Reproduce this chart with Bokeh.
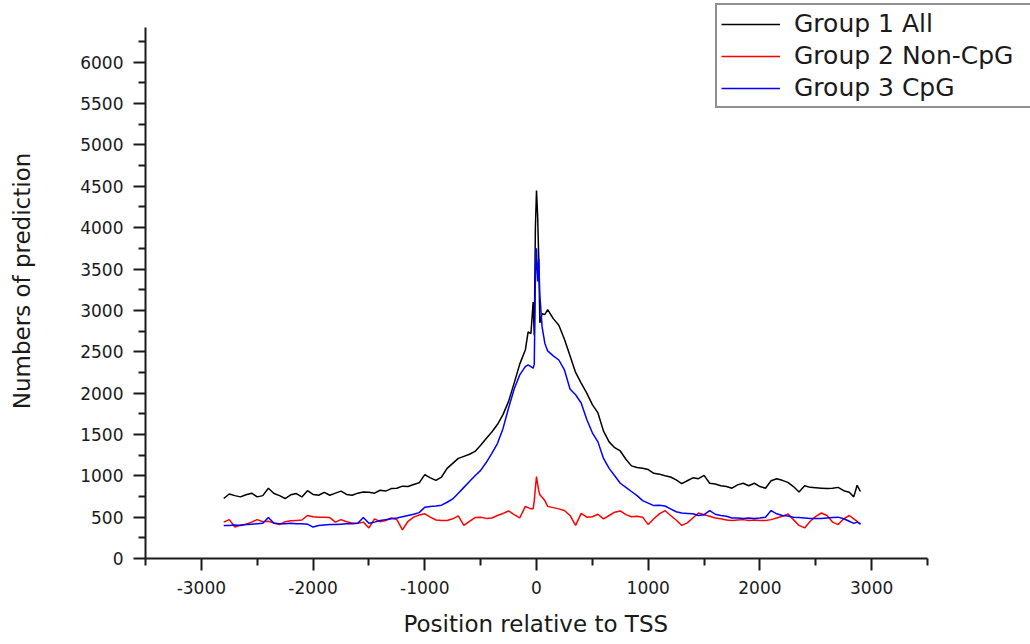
from bokeh.plotting import figure
from bokeh.models import Range1d, FixedTicker, Legend, LegendItem, Title
from bokeh.embed import file_html
from bokeh.resources import INLINE

# Position relative to TSS (shared x grid)
positions = [
    -2800, -2750, -2700, -2650, -2600, -2550, -2500, -2450, -2400, -2350,
    -2300, -2250, -2200, -2150, -2100, -2050, -2000, -1950, -1900, -1850,
    -1800, -1750, -1700, -1650, -1600, -1550, -1500, -1450, -1400, -1350,
    -1300, -1250, -1200, -1150, -1100, -1050, -1000, -950, -900, -850,
    -800, -750, -700, -650, -600, -550, -500, -450, -400, -350,
    -300, -250, -200, -150, -100, -75, -50, -30, -20, -10,
    0, 10, 20, 30, 50, 75, 100, 150, 200, 250,
    300, 350, 400, 450, 500, 550, 600, 650, 700, 750,
    800, 850, 900, 950, 1000, 1050, 1100, 1150, 1200, 1250,
    1300, 1350, 1400, 1450, 1500, 1550, 1600, 1650, 1700, 1750,
    1800, 1850, 1900, 1950, 2000, 2050, 2100, 2150, 2200, 2250,
    2300, 2350, 2400, 2450, 2500, 2550, 2600, 2650, 2700, 2750,
    2800, 2840, 2870, 2900,
]

group1_all = [
    725, 780, 760, 745, 770, 790, 745, 760, 850, 785,
    760, 725, 770, 785, 745, 820, 775, 765, 800, 765,
    790, 815, 775, 765, 790, 805, 800, 790, 825, 815,
    845, 850, 875, 870, 895, 915, 1015, 975, 945, 985,
    1090, 1150, 1210, 1235, 1260, 1295, 1370, 1450, 1530, 1620,
    1740, 1900, 2120, 2350, 2520, 2740, 2720, 3100, 2700, 4000,
    4450, 4150, 3630, 2850, 2960, 2950, 3010, 2900, 2820, 2650,
    2450, 2250, 2120, 2000, 1860, 1760, 1540, 1410, 1340, 1300,
    1200, 1120, 1100, 1090, 1075, 1030, 1020, 1000, 985, 950,
    905, 940, 975, 965, 1005, 910, 900, 880, 870, 850,
    890, 910, 880, 910, 870, 850, 940, 965, 945, 920,
    870, 805, 880, 860, 855, 850, 845, 850, 860, 820,
    800, 745, 885, 810,
]

group2_noncpg = [
    440, 470, 380, 405, 415, 440, 470, 445, 450, 430,
    410, 445, 455, 460, 465, 520, 505, 500, 500, 495,
    440, 470, 445, 430, 425, 440, 370, 480, 445, 460,
    490, 470, 345, 450, 500, 525, 540, 500, 465, 460,
    460, 480, 515, 400, 450, 495, 500, 485, 490, 520,
    545, 575, 530, 490, 630, 615, 600, 600, 700, 850,
    990, 900, 820, 770, 740, 700, 630, 615, 600, 580,
    520, 400, 545, 500, 505, 535, 480, 520, 560, 575,
    530, 505, 510, 500, 410, 480, 540, 580, 520, 465,
    400, 430, 490, 550, 530, 510, 490, 480, 465, 460,
    465, 470, 460, 465, 460, 460, 470, 490, 510, 540,
    470, 400, 370, 450, 510, 550, 520, 440, 410, 480,
    520, 480, 450, 410,
]

group3_cpg = [
    400, 400, 405, 400, 410, 415, 420, 425, 495, 425,
    420, 420, 425, 420, 420, 415, 380, 400, 405, 410,
    410, 415, 420, 420, 425, 495, 425, 440, 460, 470,
    480, 490, 505, 520, 535, 555, 620, 630, 635, 645,
    680, 720, 790, 860, 930, 1000, 1065, 1160, 1270, 1390,
    1570, 1820, 2050, 2220, 2320, 2340, 2320, 2300, 2350, 3400,
    3750, 3350, 3620, 3180, 2800, 2600, 2510, 2450, 2400, 2280,
    2050, 1980, 1880, 1680, 1520, 1410, 1210, 1090, 1000, 910,
    860, 810, 760, 700, 670, 640, 645, 635, 600, 565,
    550, 545, 540, 520, 530, 580, 535, 520, 510, 490,
    490, 485, 490, 485, 490, 500, 580, 540, 520, 515,
    500, 495, 490, 485, 485, 485, 490, 495, 500, 480,
    450, 425, 440, 420,
]

series_names = ["Group 1 All", "Group 2 Non-CpG", "Group 3 CpG"]
series_colors = ["#000000", "#ff0000", "#0000ff"]

y_major = [0, 500, 1000, 1500, 2000, 2500, 3000, 3500, 4000, 4500, 5000, 5500, 6000]
y_minor = [250, 750, 1250, 1750, 2250, 2750, 3250, 3750, 4250, 4750, 5250, 5750, 6250]
x_major = [-3000, -2000, -1000, 0, 1000, 2000, 3000]
x_minor = [-3500, -2500, -1500, -500, 500, 1500, 2500, 3500]
x_bounds = (-3500, 3500)
y_bounds = (0, 6420)
x_title = "Position relative to TSS"
y_title = "Numbers of prediction"

FONT = "DejaVu Sans"
INK = "#1a1a1a"

# The frame reaches the window's right and top edge so that the legend
# (which overhangs the axes in the reference) is not clipped; the axis lines
# are limited with `bounds`.
LEFT, AXIS_W, AXIS_H, BOTTOM_Y = 145, 782, 531, 558
PX_PER_X = AXIS_W / (x_bounds[1] - x_bounds[0])
PX_PER_Y = AXIS_H / (y_bounds[1] - y_bounds[0])
frame_w = 1030 - LEFT
frame_h = BOTTOM_Y - 3
x_end = x_bounds[0] + frame_w / PX_PER_X
y_end = y_bounds[0] + frame_h / PX_PER_Y

p = figure(
    width=1030, height=644,
    frame_width=frame_w, frame_height=frame_h,
    min_border_left=LEFT, min_border_right=0,
    min_border_top=3, min_border_bottom=644 - BOTTOM_Y,
    x_range=Range1d(x_bounds[0], x_end), y_range=Range1d(y_bounds[0], y_end),
    output_backend="svg", toolbar_location=None,
)
p.outline_line_color = None
p.xgrid.visible = False
p.ygrid.visible = False
p.background_fill_color = "white"
p.border_fill_color = "white"

renderers = []
for ys, c in zip([group1_all, group2_noncpg, group3_cpg], series_colors):
    r = p.line(positions, ys, line_color=c, line_width=1.5)
    renderers.append(r)

for ax in (p.xaxis[0], p.yaxis[0]):
    ax.axis_line_width = 2
    ax.axis_line_color = INK
    ax.major_tick_line_width = 2
    ax.minor_tick_line_width = 2
    ax.major_tick_line_color = INK
    ax.minor_tick_line_color = INK
    ax.major_tick_in = 0
    ax.major_tick_out = 12
    ax.minor_tick_in = 0
    ax.minor_tick_out = 7
    ax.major_label_text_font = FONT
    ax.major_label_text_font_size = "17px"
    ax.major_label_text_color = INK
    ax.axis_label_text_font = FONT
    ax.axis_label_text_font_style = "normal"
    ax.axis_label_text_color = INK

p.xaxis[0].bounds = x_bounds
p.yaxis[0].bounds = y_bounds
p.xaxis[0].ticker = FixedTicker(ticks=x_major, minor_ticks=x_minor)
p.yaxis[0].ticker = FixedTicker(ticks=y_major, minor_ticks=y_minor)
p.xaxis[0].major_label_overrides = {t: str(t) for t in x_major}
p.yaxis[0].axis_label = y_title
p.yaxis[0].axis_label_text_font_size = "23px"
p.xaxis[0].major_label_standoff = 10
p.yaxis[0].major_label_standoff = 10
p.yaxis[0].axis_label_standoff = 42

# x title centred under the drawn axis (x = 0), not under the enlarged frame
title_w = 266
title_offset = int((x_bounds[1] - x_bounds[0]) / 2 * PX_PER_X - title_w / 2)
xt = Title(
    text=x_title, align="left", offset=title_offset, standoff=24,
    text_font=FONT, text_font_size="23px", text_font_style="normal",
    text_color=INK,
)
p.add_layout(xt, "below")

legend = Legend(
    items=[LegendItem(label=n, renderers=[r]) for n, r in zip(series_names, renderers)],
    location=(570, 450),
    margin=0, padding=4, spacing=3,
    glyph_width=59, glyph_height=24, label_height=24, label_width=240,
    label_standoff=14,
    label_text_font=FONT, label_text_font_size="25px", label_text_color=INK,
    border_line_color="#222222", border_line_width=2,
    background_fill_color="white", background_fill_alpha=1.0,
)
p.add_layout(legend, "center")

open("out.html", "w").write(file_html(p, INLINE))
